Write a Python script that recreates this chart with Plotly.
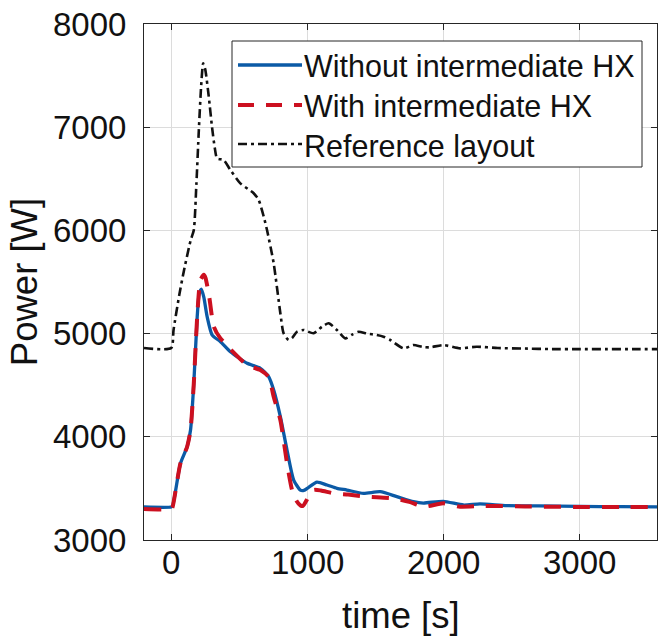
import plotly.graph_objects as go

# ---- data ----
t_ref = [-200, 0, 17, 60, 92, 142, 166, 185, 203, 220, 235, 250, 276, 300, 320, 337, 386, 435, 508,
         606, 643, 680, 704, 753, 802, 826, 863, 890, 924, 973, 1046, 1108, 1157, 1218, 1279, 1330,
         1377, 1440, 1511, 1560, 1609, 1707, 1780, 1850, 1902, 2000, 2123, 2245, 2400, 2600, 2800,
         3000, 3200, 3400, 3600]
p_ref = [4860, 4860, 5035, 5380, 5600, 5900, 6004, 6450, 6973, 7400, 7620, 7560, 7296, 7000, 6800,
         6698, 6682, 6585, 6456, 6360, 6295, 6133, 6004, 5681, 5197, 5003, 4938, 4960, 5018, 5035,
         5003, 5067, 5100, 5035, 4954, 4990, 5018, 5000, 4986, 4970, 4938, 4857, 4889, 4870, 4867,
         4889, 4857, 4873, 4860, 4855, 4850, 4850, 4850, 4850, 4850]

t_without = [-200, 0, 10, 68, 117, 142, 166, 191, 205, 222, 240, 264, 301, 362, 435, 558, 655, 716,
             753, 802, 851, 900, 949, 975, 1010, 1071, 1145, 1218, 1291, 1413, 1536, 1658, 1780,
             1853, 2000, 2147, 2269, 2465, 2700, 3000, 3300, 3600]
p_without = [3320, 3320, 3330, 3743, 3904, 4066, 4518, 5164, 5380, 5430, 5350, 5164, 4986, 4922,
             4825, 4712, 4664, 4583, 4453, 4195, 3872, 3581, 3484, 3480, 3510, 3560, 3533, 3501,
             3484, 3452, 3468, 3420, 3371, 3358, 3375, 3339, 3350, 3333, 3330, 3325, 3323, 3320]

t_with = [-200, 0, 10, 68, 117, 142, 166, 191, 215, 240, 252, 280, 313, 362, 558, 655, 716, 753,
          802, 851, 888, 920, 950, 968, 1010, 1046, 1100, 1193, 1300, 1438, 1633, 1750, 1853, 2000,
          2123, 2300, 2600, 3000, 3300, 3600]
p_with = [3300, 3300, 3320, 3743, 3904, 4066, 4518, 5164, 5519, 5570, 5540, 5350, 5067, 4954, 4696,
          4647, 4580, 4389, 4163, 3743, 3484, 3380, 3335, 3330, 3420, 3484, 3480, 3452, 3440, 3420,
          3404, 3370, 3323, 3355, 3323, 3330, 3325, 3320, 3320, 3320]

series_names = ["Without intermediate HX", "With intermediate HX", "Reference layout"]
x_ticks = [0, 1000, 2000, 3000]
x_tick_labels = ["0", "1000", "2000", "3000"]
y_ticks = [3000, 4000, 5000, 6000, 7000, 8000]
x_title = "time [s]"
y_title = "Power [W]"

BLUE = "#0b5aa6"
RED = "#cc1020"
BLACK = "#111111"
TXT = "#111111"
FONT = "Liberation Sans, Arial, sans-serif"
SMOOTH = 0.6

fig = go.Figure()
fig.add_trace(go.Scatter(x=t_without, y=p_without, mode="lines", name=series_names[0],
                         line=dict(color=BLUE, width=3.3, shape="spline", smoothing=SMOOTH),
                         showlegend=False))
fig.add_trace(go.Scatter(x=t_with, y=p_with, mode="lines", name=series_names[1],
                         line=dict(color=RED, width=4, dash="17px,12px", shape="spline", smoothing=SMOOTH),
                         showlegend=False))
fig.add_trace(go.Scatter(x=t_ref, y=p_ref, mode="lines", name=series_names[2],
                         line=dict(color=BLACK, width=2.6, dash="9px,4px,3px,4px", shape="spline",
                                   smoothing=SMOOTH),
                         showlegend=False))

# ---- manual legend (paper coordinates) ----
L, R, T, B = 144, 657, 24, 540
def px(x):
    return (x - L) / (R - L)
def py(y):
    return (B - y) / (B - T)

fig.add_shape(type="rect", xref="paper", yref="paper", x0=px(232), x1=px(642), y0=py(167), y1=py(41),
              line=dict(color="#262626", width=1), fillcolor="white", layer="above")
styles = [dict(color=BLUE, width=3.3), dict(color=RED, width=4, dash="16px,12px"),
          dict(color=BLACK, width=2.6, dash="9px,4px,3px,4px")]
rows_line = [65, 105, 144]
rows_text = [66, 106, 146]
for name, st, yl, yt in zip(series_names, styles, rows_line, rows_text):
    fig.add_shape(type="line", xref="paper", yref="paper", x0=px(238), x1=px(302), y0=py(yl), y1=py(yl),
                  line=st, layer="above")
    fig.add_annotation(xref="paper", yref="paper", x=px(302), y=py(yt), text=name, showarrow=False,
                       xanchor="left", yanchor="middle", font=dict(family=FONT, size=30.5, color=TXT))

# x tick labels placed on the x data axis
for v, lab in zip(x_ticks, x_tick_labels):
    fig.add_annotation(xref="x", yref="paper", x=v, y=py(562), text=lab, showarrow=False,
                       xanchor="center", yanchor="middle", font=dict(family=FONT, size=33, color=TXT))
fig.add_annotation(xref="paper", yref="paper", x=0.5, y=py(615), text=x_title, showarrow=False,
                   xanchor="center", yanchor="middle", font=dict(family=FONT, size=36.5, color=TXT))

axis_common = dict(showgrid=True, gridcolor="#dcdcdc", gridwidth=1, zeroline=False,
                   showline=True, linecolor="#262626", linewidth=1, mirror="ticks",
                   ticks="inside", ticklen=6, tickcolor="#262626", tickwidth=1,
                   tickfont=dict(family=FONT, size=33, color=TXT))

fig.update_xaxes(range=[-200, 3570], tickvals=x_ticks, showticklabels=False, **axis_common)
fig.update_yaxes(range=[3000, 8000], tickvals=y_ticks, ticklabelstandoff=10,
                 title=dict(text=y_title, font=dict(family=FONT, size=36.5, color=TXT), standoff=4),
                 **axis_common)

fig.update_layout(width=659, height=638, margin=dict(l=L, r=659 - R, t=T, b=638 - B),
                  plot_bgcolor="white", paper_bgcolor="white", showlegend=False)

fig.write_html("out.html")
